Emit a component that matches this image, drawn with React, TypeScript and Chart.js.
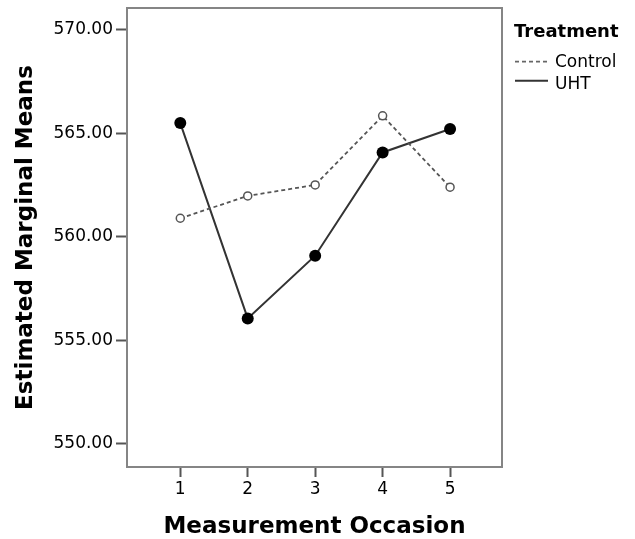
import React, { useEffect, useRef } from 'react';
import { Chart, registerables } from 'chart.js';
Chart.register(...registerables);

const occasions = [1, 2, 3, 4, 5];
const controlMeans = [560.89, 561.97, 562.5, 565.84, 562.39];
const uhtMeans = [565.49, 556.05, 559.08, 564.07, 565.2];
const yTicks = [550, 555, 560, 565, 570];
const seriesNames = ['Control', 'UHT'];
const legendTitle = 'Treatment';
const xTitle = 'Measurement Occasion';
const yTitle = 'Estimated Marginal Means';

const FONT = '"DejaVu Sans", sans-serif';

const boxAndLegend = {
  id: 'boxAndLegend',
  afterDraw(chart: any) {
    const { ctx, chartArea: a } = chart;
    ctx.save();
    ctx.strokeStyle = '#858585';
    ctx.lineWidth = 2;
    ctx.setLineDash([]);
    ctx.strokeRect(a.left, a.top, a.right - a.left, a.bottom - a.top);

    const lx = a.right + 12;
    ctx.fillStyle = '#000';
    ctx.textBaseline = 'alphabetic';
    ctx.textAlign = 'left';
    ctx.font = `bold 18px ${FONT}`;
    ctx.fillText(legendTitle, lx, 36.7);

    ctx.font = `17px ${FONT}`;
    // Control
    ctx.strokeStyle = '#666';
    ctx.lineWidth = 1.8;
    ctx.setLineDash([4, 3]);
    ctx.beginPath();
    ctx.moveTo(lx + 1, 61.7);
    ctx.lineTo(lx + 34, 61.7);
    ctx.stroke();
    ctx.fillText(seriesNames[0], lx + 41, 67.3);
    // UHT
    ctx.strokeStyle = '#333';
    ctx.lineWidth = 2;
    ctx.setLineDash([]);
    ctx.beginPath();
    ctx.moveTo(lx + 1, 80.7);
    ctx.lineTo(lx + 34, 80.7);
    ctx.stroke();
    ctx.fillText(seriesNames[1], lx + 41, 89);
    ctx.restore();
  },
};

export default function App() {
  const ref = useRef<HTMLCanvasElement | null>(null);

  useEffect(() => {
    if (!ref.current) return;
    const chart = new Chart(ref.current, {
      type: 'line',
      data: {
        datasets: [
          {
            label: seriesNames[0],
            data: occasions.map((x, i) => ({ x, y: controlMeans[i] })),
            borderColor: '#555',
            borderWidth: 1.8,
            borderDash: [4, 3],
            pointRadius: 4,
            pointBorderWidth: 1.5,
            pointBackgroundColor: '#fff',
            pointBorderColor: '#555',
            tension: 0,
          },
          {
            label: seriesNames[1],
            data: occasions.map((x, i) => ({ x, y: uhtMeans[i] })),
            borderColor: '#333',
            borderWidth: 2,
            pointRadius: 6,
            pointBorderWidth: 0,
            pointBackgroundColor: '#000',
            pointBorderColor: '#000',
            tension: 0,
          },
        ],
      },
      options: {
        animation: false,
        responsive: false,
        devicePixelRatio: 1,
        layout: { padding: { top: 8, right: 133, left: 0, bottom: 0 } },
        plugins: {
          legend: { display: false },
          tooltip: { enabled: false },
        },
        scales: {
          x: {
            type: 'linear',
            min: 0.21,
            max: 5.77,
            afterBuildTicks: (s: any) => {
              s.ticks = occasions.map((v) => ({ value: v }));
            },
            afterFit: (s: any) => {
              s.height = 72;
              s.paddingLeft = 0;
              s.paddingRight = 0;
            },
            ticks: {
              color: '#000',
              font: { family: FONT, size: 17 },
              padding: 2,
              callback: (v: any) => String(v),
              maxRotation: 0,
            },
            grid: {
              drawOnChartArea: false,
              drawTicks: true,
              tickLength: 10,
              tickWidth: 2,
              tickColor: '#555',
            },
            border: { display: false },
            title: {
              display: true,
              text: xTitle,
              color: '#000',
              font: { family: FONT, size: 23, weight: 'bold', lineHeight: 1 },
              padding: { top: 0, bottom: 0 },
            },
          },
          y: {
            type: 'linear',
            min: 548.87,
            max: 571.05,
            afterBuildTicks: (s: any) => {
              s.ticks = yTicks.map((v) => ({ value: v }));
            },
            afterFit: (s: any) => {
              s.width = 127;
              s.paddingTop = 0;
              s.paddingBottom = 0;
            },
            ticks: {
              color: '#000',
              font: { family: FONT, size: 17 },
              padding: 3,
              callback: (v: any) => Number(v).toFixed(2),
            },
            grid: {
              drawOnChartArea: false,
              drawTicks: true,
              tickLength: 11,
              tickWidth: 2,
              tickColor: '#555',
            },
            border: { display: false },
            title: {
              display: true,
              text: yTitle,
              color: '#000',
              font: { family: FONT, size: 23, weight: 'bold' },
              padding: { top: 12.7, bottom: 0 },
            },
          },
        },
      },
      plugins: [boxAndLegend],
    } as any);
    return () => chart.destroy();
  }, []);

  return (
    <div style={{ position: 'absolute', left: 0, top: 0, width: 635, height: 539, background: '#fff' }}>
      <canvas ref={ref} width={635} height={539} style={{ display: 'block', width: 635, height: 539 }} />
    </div>
  );
}
